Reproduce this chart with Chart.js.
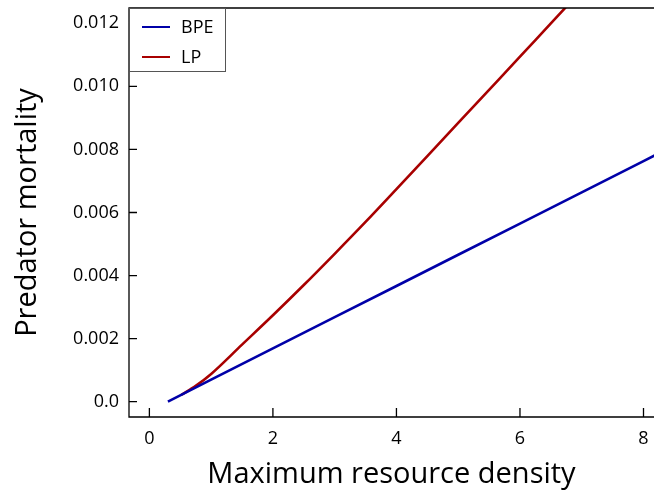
<!DOCTYPE html>
<html>
<head>
<meta charset="utf-8">
<script src="https://cdn.jsdelivr.net/npm/chart.js@4"></script>
<style>
  html, body { margin: 0; padding: 0; background: #fff; overflow: hidden; }
  #wrap { width: 654px; height: 495px; }
</style>
</head>
<body>
<div id="wrap"><canvas id="chart" width="654" height="495"></canvas></div>
<script>
// values
const bpeX = [0.3, 1, 2, 3, 4, 5, 6, 7, 8, 8.2];
const bpeY = [0.0, 0.0007, 0.00169, 0.00268, 0.00367, 0.00466, 0.00565, 0.00664, 0.00763, 0.00783];

const lpX = [0.52, 0.75, 1.0, 1.5, 2.0, 2.5, 3.0, 3.5, 4.0, 4.5, 5.0, 5.5, 6.0, 6.5, 7.0];
const lpY = [0.00022, 0.00050, 0.00088, 0.00181, 0.00274, 0.00370, 0.00469, 0.00570, 0.00674, 0.00779, 0.00884, 0.00989, 0.01094, 0.01200, 0.01305];

const xTicks = [0, 2, 4, 6, 8];
const yTicks = [0, 0.002, 0.004, 0.006, 0.008, 0.010, 0.012];
const yTickLabels = ['0.0', '0.002', '0.004', '0.006', '0.008', '0.010', '0.012'];

const FONT = "'Open Sans', 'DejaVu Sans', sans-serif";

const frame = {
  id: 'frame',
  afterDatasetsDraw(chart) {
    const ctx = chart.ctx;
    const a = chart.chartArea;
    const xs = chart.scales.x, ys = chart.scales.y;
    ctx.save();
    ctx.strokeStyle = '#000';
    ctx.lineWidth = 1.3;
    ctx.beginPath();
    ctx.moveTo(a.right, a.top);
    ctx.lineTo(a.left, a.top);
    ctx.lineTo(a.left, a.bottom);
    ctx.lineTo(a.right, a.bottom);
    // inward ticks
    xTicks.forEach(v => {
      const px = xs.getPixelForValue(v);
      ctx.moveTo(px, a.bottom);
      ctx.lineTo(px, a.bottom - 9);
    });
    yTicks.forEach(v => {
      const py = ys.getPixelForValue(v);
      ctx.moveTo(a.left, py);
      ctx.lineTo(a.left + 8, py);
    });
    ctx.stroke();

    // legend box
    const lx = a.left, ly = a.top, lw = 96, lh = 63;
    ctx.fillStyle = '#fff';
    ctx.fillRect(lx, ly, lw, lh);
    ctx.strokeStyle = '#555';
    ctx.lineWidth = 1;
    ctx.strokeRect(lx + 0.5, ly + 0.5, lw, lh);
    ctx.font = '18px ' + FONT;
    ctx.textBaseline = 'middle';
    ctx.textAlign = 'left';
    chart.data.datasets.forEach((ds, i) => {
      const y = ly + 19 + i * 30;
      ctx.strokeStyle = ds.borderColor;
      ctx.lineWidth = 2;
      ctx.beginPath();
      ctx.moveTo(lx + 13, y);
      ctx.lineTo(lx + 41, y);
      ctx.stroke();
      ctx.fillStyle = '#000';
      ctx.fillText(ds.label, lx + 52, y + 1);
    });
    ctx.restore();
  }
};

new Chart(document.getElementById('chart'), {
  type: 'line',
  data: {
    datasets: [{
      label: 'BPE',
      data: bpeX.map((x, i) => ({x: x, y: bpeY[i]})),
      borderColor: '#0000a8',
      borderWidth: 2.6,
      pointRadius: 0,
      tension: 0
    }, {
      label: 'LP',
      data: lpX.map((x, i) => ({x: x, y: lpY[i]})),
      borderColor: '#a80000',
      borderWidth: 2.6,
      pointRadius: 0,
      cubicInterpolationMode: 'monotone'
    }]
  },
  plugins: [frame],
  options: {
    responsive: false,
    animation: false,
    layout: { autoPadding: false, padding: { top: 8, right: 0, left: 0, bottom: 0 } },
    plugins: {
      legend: { display: false },
      tooltip: { enabled: false }
    },
    scales: {
      x: {
        type: 'linear',
        min: -0.33,
        max: 8.17,
        afterBuildTicks: s => { s.ticks = xTicks.map(v => ({value: v})); },
        afterFit: s => { s.height = 78; s.paddingLeft = 0; s.paddingRight = 0; },
        grid: { display: false, drawTicks: false },
        border: { display: false },
        ticks: { color: '#000', font: { family: FONT, size: 18 }, padding: 11, maxRotation: 0 },
        title: { display: true, text: 'Maximum resource density', color: '#000',
                 font: { family: FONT, size: 29 }, padding: { top: 0, bottom: 3 } }
      },
      y: {
        min: -0.000485,
        max: 0.012485,
        afterBuildTicks: s => { s.ticks = yTicks.map(v => ({value: v})); },
        afterFit: s => { s.width = 129; s.paddingTop = 0; s.paddingBottom = 0; },
        grid: { display: false, drawTicks: false },
        border: { display: false },
        ticks: { color: '#000', font: { family: FONT, size: 18 }, padding: 10,
                 callback: (v, i) => yTickLabels[i] },
        title: { display: true, text: 'Predator mortality', color: '#000',
                 font: { family: FONT, size: 29 }, padding: { top: 10, bottom: 0 } }
      }
    }
  }
});
</script>
</body>
</html>
